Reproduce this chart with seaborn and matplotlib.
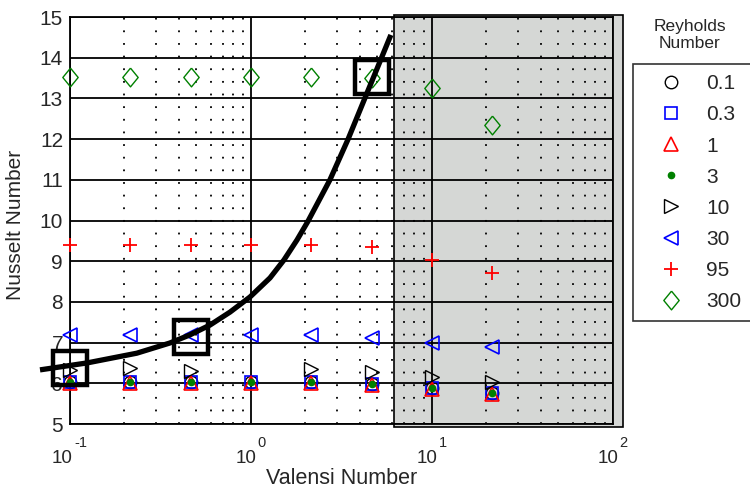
import matplotlib
matplotlib.use("Agg")
import matplotlib.pyplot as plt
from matplotlib.patches import Rectangle
from matplotlib.ticker import LogLocator, NullFormatter, MultipleLocator
from matplotlib.transforms import blended_transform_factory, offset_copy
import numpy as np
import seaborn as sns

# Valensi numbers at which every Reynolds series was measured
valensi = [0.1, 0.215, 0.464, 1.0, 2.15, 4.64, 10.0, 21.5]

# Nusselt number per Reynolds number
nu_re_0p1 = [6.03, 6.03, 6.03, 6.03, 6.03, 5.98, 5.88, 5.76]
nu_re_0p3 = [6.03, 6.03, 6.03, 6.03, 6.03, 5.98, 5.88, 5.76]
nu_re_1 = [6.01, 6.01, 6.01, 6.01, 6.01, 5.96, 5.86, 5.74]
nu_re_3 = [6.03, 6.03, 6.03, 6.03, 6.03, 5.98, 5.88, 5.76]
nu_re_10 = [6.33, 6.37, 6.31, np.nan, 6.35, 6.28, 6.16, 6.04]
nu_re_30 = [7.19, 7.19, 7.19, 7.19, 7.19, 7.11, 6.98, 6.89]
nu_re_95 = [9.40, 9.40, 9.40, 9.40, 9.40, 9.34, 9.03, 8.71]
nu_re_300 = [13.53, 13.53, 13.53, 13.53, 13.53, 13.49, 13.25, 12.35]

reynolds_labels = ["0.1", "0.3", "1", "3", "10", "30", "95", "300"]
reynolds_series = [nu_re_0p1, nu_re_0p3, nu_re_1, nu_re_3,
                   nu_re_10, nu_re_30, nu_re_95, nu_re_300]

# highlighted operating points (big open squares)
highlight_valensi = [0.1, 0.464, 4.64]
highlight_nu = [6.37, 7.14, 13.53]

# correlation curve, points
curve_valensi = [0.0683, 0.124, 0.234, 0.356, 0.460, 0.593, 0.766, 0.987,
                 1.274, 1.521, 1.795, 2.064, 2.731, 3.433, 4.209, 5.035, 5.929]
curve_nu = [6.33, 6.50, 6.74, 6.99, 7.19, 7.43, 7.75, 8.12,
            8.59, 9.03, 9.52, 9.98, 11.00, 11.99, 12.95, 13.79, 14.56]

# start of the shaded (out of range) Valensi region
shade_start = 6.2

# x tick decades
decades = [-1, 0, 1, 2]

diamond = [(0, 1), (0.82, 0), (0, -1), (-0.82, 0), (0, 1)]

# marker styles, one per Reynolds series
styles = [
    dict(marker="o", mfc="none", mec="black", ms=9, mew=1.0),
    dict(marker="s", mfc="none", mec="blue", ms=9, mew=1.2),
    dict(marker="^", mfc="none", mec="red", ms=10, mew=1.2),
    dict(marker="o", mfc="green", mec="green", ms=4.5, mew=1.0),
    dict(marker=">", mfc="none", mec="black", ms=10, mew=1.0),
    dict(marker="<", mfc="none", mec="blue", ms=10, mew=1.2),
    dict(marker="+", mfc="none", mec="red", ms=10.5, mew=1.3),
    dict(marker=diamond, mfc="none", mec="green", ms=13.5, mew=1.0),
]

sns.set_style("white")
plt.rcParams["font.family"] = ["Liberation Sans", "DejaVu Sans"]

fig = plt.figure(figsize=(7.5, 4.92), dpi=100)
ax = fig.add_axes([0.0933, 0.1382, 0.724, 0.8272])
ax.set_xscale("log")
ax.set_xlim(0.1, 100)
ax.set_ylim(5, 15)

# shaded region, slightly larger than the axes like the original
ax.add_patch(Rectangle((shade_start, 4.93), 113.6 - shade_start, 15.05 - 4.93,
                       facecolor="#d5d7d5", edgecolor="black", lw=1.2,
                       clip_on=False, zorder=0.3))

for label, vals, st in zip(reynolds_labels, reynolds_series, styles):
    sns.lineplot(x=valensi, y=vals, ax=ax, linestyle="", label=label,
                 marker=st["marker"], markerfacecolor=st["mfc"],
                 markeredgecolor=st["mec"], markersize=st["ms"],
                 markeredgewidth=st["mew"], color=st["mec"],
                 estimator=None, sort=False, clip_on=False, zorder=3)

sns.lineplot(x=curve_valensi, y=curve_nu, ax=ax, color="black", lw=3.8,
             estimator=None, sort=False, clip_on=False, zorder=5,
             solid_joinstyle="round", solid_capstyle="butt")
sns.lineplot(x=highlight_valensi, y=highlight_nu, ax=ax, linestyle="",
             marker="s", markerfacecolor="none", markeredgecolor="black",
             markersize=24, markeredgewidth=3.2, estimator=None,
             clip_on=False, zorder=6)

# grid
ax.set_axisbelow(True)
ax.yaxis.set_major_locator(MultipleLocator(1))
ax.xaxis.set_major_locator(LogLocator(base=10, numticks=10))
ax.xaxis.set_minor_locator(LogLocator(base=10, subs=np.arange(2, 10), numticks=20))
ax.xaxis.set_major_formatter(NullFormatter())
ax.xaxis.set_minor_formatter(NullFormatter())
ax.grid(True, which="major", color="black", lw=1.3, ls="-")
ax.grid(True, which="minor", axis="x", color="black", lw=1.3, ls=(0, (1, 6)))
for sp in ax.spines.values():
    sp.set_color("black")
    sp.set_linewidth(1.3)

ax.tick_params(axis="y", which="both", length=0, pad=5, labelsize=15)
ax.tick_params(axis="x", which="both", length=0)

# x tick labels drawn as "10" with a raised exponent, like the original
xtrans = blended_transform_factory(ax.transData, ax.transAxes)
for d in decades:
    exp = str(d)
    sup_w = 13 if d < 0 else 8
    dx = (19 - sup_w) / 2
    ax.text(10.0 ** d, 0, "10", fontsize=13.5, ha="right", va="baseline",
            transform=offset_copy(xtrans, fig=fig, x=dx, y=-39, units="dots"))
    ax.text(10.0 ** d, 0, exp, fontsize=10.5, ha="left", va="baseline",
            transform=offset_copy(xtrans, fig=fig, x=dx + 1, y=-23, units="dots"))

ax.set_xlabel("Valensi Number", fontsize=15.5)
ax.set_ylabel("Nusselt Number", fontsize=15)
ax.xaxis.set_label_coords(0.5, -0.108)
ax.yaxis.set_label_coords(-0.083, 0.49)

leg = ax.legend(loc="upper left", bbox_to_anchor=(633 / 750, 1 - 64 / 492),
                bbox_transform=fig.transFigure, borderaxespad=0,
                frameon=True, fancybox=False, edgecolor="black",
                fontsize=15, handlelength=2.65, handletextpad=0.35,
                labelspacing=0.58, borderpad=0.5, numpoints=1)
leg.get_frame().set_linewidth(1.2)

fig.text(690 / 750, 1 - 35 / 492, "Reyholds\nNumber", ha="center",
         va="center", fontsize=12.5, linespacing=1.2)

fig.savefig("out.png", dpi=100)
